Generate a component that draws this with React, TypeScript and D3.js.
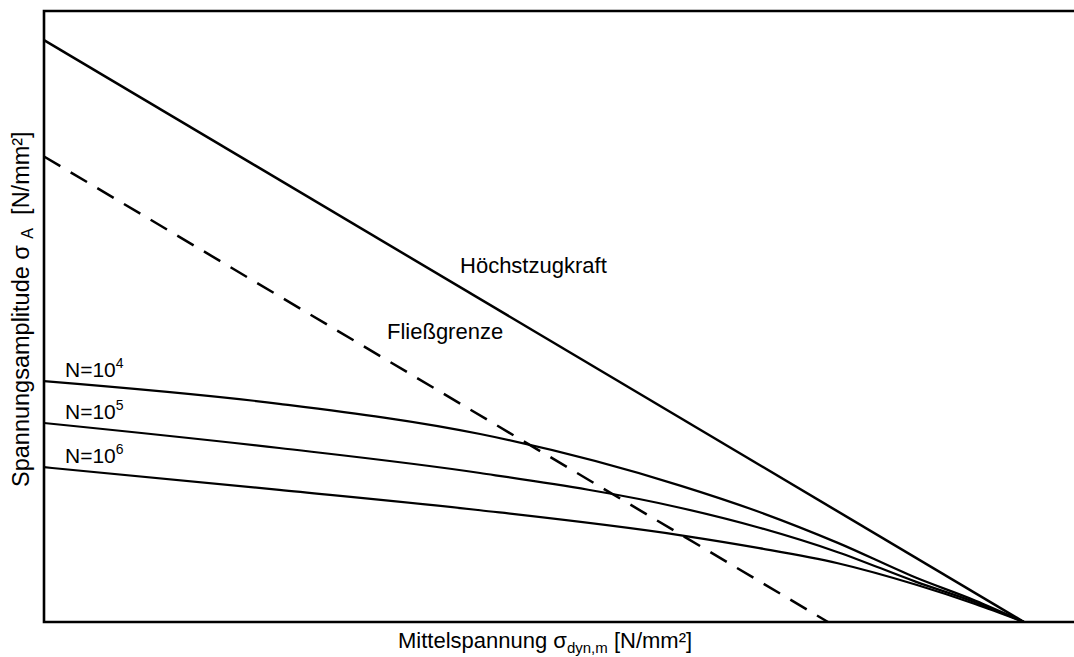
import * as d3 from "d3";
import { useEffect, useRef } from "react";

// abscissa: mean stress as fraction of the convergence point (Rm)
const xs = [0, 0.24, 0.445, 0.65, 0.73, 0.81, 0.89, 0.95, 1.0];
const n4 = [0.414, 0.375, 0.323, 0.234, 0.189, 0.136, 0.076, 0.037, 0];
const n5 = [0.342, 0.299, 0.256, 0.196, 0.162, 0.12, 0.069, 0.034, 0];
const n6 = [0.266, 0.227, 0.192, 0.149, 0.127, 0.101, 0.064, 0.031, 0];
const curveExps = ["4", "5", "6"];

const tensileX = [0, 1];
const tensileY = [1, 0];
const yieldX = [0, 0.8];
const yieldY = [0.8, 0];

const W = 1074;
const H = 657;
const FONT = "'Liberation Sans', Arial, Helvetica, sans-serif";

export default function App() {
  const ref = useRef<SVGSVGElement>(null);

  useEffect(() => {
    if (!ref.current) return;
    const svg = d3.select(ref.current);
    svg.selectAll("*").remove();

    const x = d3.scaleLinear().domain([0, 1.051]).range([44, 1074]);
    const y = d3.scaleLinear().domain([0, 1.05]).range([622, 11]);

    const line = d3
      .line<[number, number]>()
      .x(d => x(d[0]))
      .y(d => y(d[1]));
    const smooth = d3
      .line<[number, number]>()
      .x(d => x(d[0]))
      .y(d => y(d[1]))
      .curve(d3.curveMonotoneX);

    // frame: top, left, bottom (no right side)
    const [x0, x1] = x.range();
    const [yb, yt] = y.range();
    svg.append("path")
      .attr("d", `M${x1},${yt}H${x0}V${yb}H${x1}`)
      .attr("fill", "none")
      .attr("stroke", "#000")
      .attr("stroke-width", 2.6);

    // Höchstzugkraft
    svg.append("path")
      .attr("d", line(tensileX.map((v, i) => [v, tensileY[i]]))!)
      .attr("fill", "none")
      .attr("stroke", "#000")
      .attr("stroke-width", 2.5);

    // Fließgrenze (dashed)
    svg.append("path")
      .attr("d", line(yieldX.map((v, i) => [v, yieldY[i]]))!)
      .attr("fill", "none")
      .attr("stroke", "#000")
      .attr("stroke-width", 2.5)
      .attr("stroke-dasharray", "19,12");

    // Wöhler curves
    const series = [n4, n5, n6];
    series.forEach(vals => {
      svg.append("path")
        .attr("d", smooth(xs.map((v, i) => [v, vals[i]]))!)
        .attr("fill", "none")
        .attr("stroke", "#000")
        .attr("stroke-width", 2.2);
    });

    // curve labels
    series.forEach((vals, i) => {
      const t = svg.append("text")
        .attr("x", x(0) + 21)
        .attr("y", y(vals[0]) - 4)
        .attr("font-family", FONT)
        .attr("font-size", 21)
        .attr("fill", "#000");
      t.append("tspan").text("N=10");
      t.append("tspan").attr("dy", -9).attr("font-size", 14).text(curveExps[i]);
    });

    svg.append("text")
      .attr("x", x(0.4245))
      .attr("y", y(0.6))
      .attr("font-family", FONT)
      .attr("font-size", 22)
      .text("Höchstzugkraft");

    svg.append("text")
      .attr("x", x(0.35))
      .attr("y", y(0.486))
      .attr("font-family", FONT)
      .attr("font-size", 22)
      .text("Fließgrenze");

    // x title
    const xt = svg.append("text")
      .attr("x", 398)
      .attr("y", 648)
      .attr("font-family", FONT)
      .attr("font-size", 22);
    xt.append("tspan").text("Mittelspannung σ");
    xt.append("tspan").attr("dy", 5).attr("font-size", 15).text("dyn,m");
    xt.append("tspan").attr("dy", -5).text(" [N/mm²]");

    // y title
    const yt2 = svg.append("text")
      .attr("transform", `translate(29,487) rotate(-90)`)
      .attr("font-family", FONT)
      .attr("font-size", 23.5);
    yt2.append("tspan").text("Spannungsamplitude σ\u00a0");
    yt2.append("tspan").attr("dy", 4).attr("font-size", 16).text("A");
    yt2.append("tspan").attr("dy", -4).text("\u00a0 [N/mm²]");
  }, []);

  return (
    <svg
      ref={ref}
      width={W}
      height={H}
      viewBox={`0 0 ${W} ${H}`}
      style={{ position: "absolute", left: 0, top: 0, background: "#fff" }}
    />
  );
}
